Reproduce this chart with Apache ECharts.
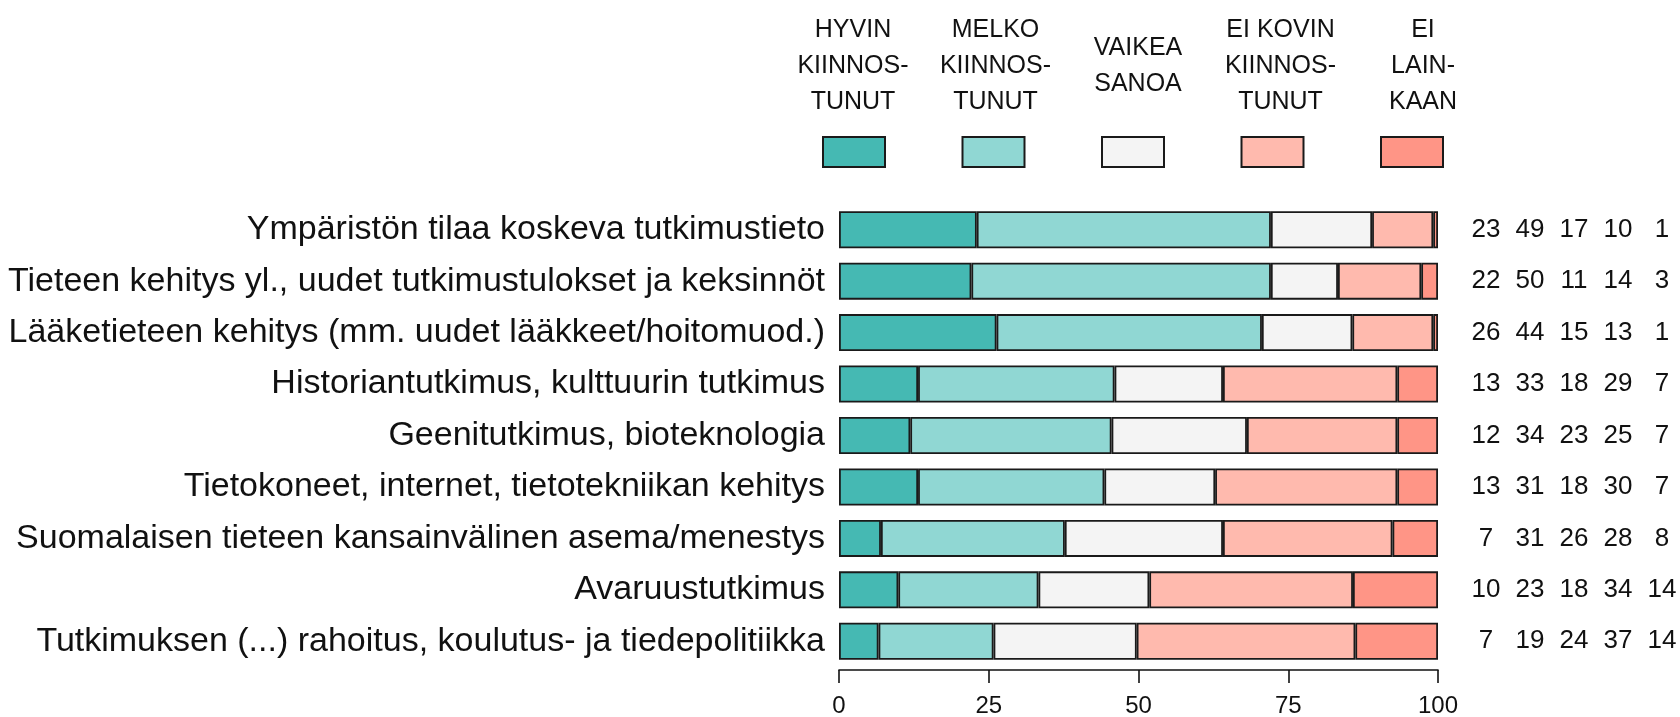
<!DOCTYPE html>
<html>
<head>
<meta charset="utf-8">
<script src="https://cdn.jsdelivr.net/npm/echarts@6/dist/echarts.min.js"></script>
<style>html,body{margin:0;padding:0;background:#fff}#c{width:1680px;height:717px}</style>
</head>
<body>
<div id="c"></div>
<script>
// ---- data ----
const categories = [
  'Ympäristön tilaa koskeva tutkimustieto',
  'Tieteen kehitys yl., uudet tutkimustulokset ja keksinnöt',
  'Lääketieteen kehitys (mm. uudet lääkkeet/hoitomuod.)',
  'Historiantutkimus, kulttuurin tutkimus',
  'Geenitutkimus, bioteknologia',
  'Tietokoneet, internet, tietotekniikan kehitys',
  'Suomalaisen tieteen kansainvälinen asema/menestys',
  'Avaruustutkimus',
  'Tutkimuksen (...) rahoitus, koulutus- ja tiedepolitiikka'
];
const seriesNames = ['HYVIN KIINNOSTUNUT', 'MELKO KIINNOSTUNUT', 'VAIKEA SANOA', 'EI KOVIN KIINNOSTUNUT', 'EI LAINKAAN'];
const legendLabels = ['HYVIN\nKIINNOS-\nTUNUT', 'MELKO\nKIINNOS-\nTUNUT', 'VAIKEA\nSANOA', 'EI KOVIN\nKIINNOS-\nTUNUT', 'EI\nLAIN-\nKAAN'];
// bar segment widths (%)
const hyvin      = [23.0, 22.1, 26.3, 13.2, 11.9, 13.2, 7.0, 9.9, 6.6];
const melko      = [49.1, 50.0, 44.3, 32.8, 33.6, 31.1, 30.7, 23.4, 19.2];
const vaikea     = [16.9, 11.2, 15.1, 18.1, 22.6, 18.5, 26.4, 18.5, 23.9];
const eiKovin    = [10.2, 13.9, 13.5, 29.1, 25.1, 30.4, 28.3, 34.0, 36.5];
const eiLainkaan = [0.8, 2.8, 0.8, 6.8, 6.8, 6.8, 7.6, 14.2, 13.8];
// printed percentages on the right
const lblHyvin      = [23, 22, 26, 13, 12, 13, 7, 10, 7];
const lblMelko      = [49, 50, 44, 33, 34, 31, 31, 23, 19];
const lblVaikea     = [17, 11, 15, 18, 23, 18, 26, 18, 24];
const lblEiKovin    = [10, 14, 13, 29, 25, 30, 28, 34, 37];
const lblEiLainkaan = [1, 3, 1, 7, 7, 7, 8, 14, 14];
const xTicks = [0, 25, 50, 75, 100];
const colors = ['#45B9B3', '#90D7D3', '#F4F4F4', '#FFBAAE', '#FF9586'];

const seriesData = [hyvin, melko, vaikea, eiKovin, eiLainkaan];
const labelData = [lblHyvin, lblMelko, lblVaikea, lblEiKovin, lblEiLainkaan];

const FONT = '"Liberation Sans", Arial, sans-serif';

const chart = echarts.init(document.getElementById('c'), null, {renderer: 'canvas'});

const legendLeft = 822, legendStep = 142.5, boxW = 62;

const option = {
  backgroundColor: '#ffffff',
  animation: false,
  grid: {left: 839, right: 242, top: 204, bottom: 50, containLabel: false, outerBoundsMode: 'none'},
  legend: {
    left: legendLeft, top: 136, padding: 0,
    itemWidth: boxW, itemHeight: 30,
    itemGap: legendStep - boxW - 5,
    icon: 'rect',
    formatter: () => '',
    selectedMode: false,
    itemStyle: {borderColor: '#1a1a1a', borderWidth: 2},
    data: seriesNames
  },
  xAxis: {
    type: 'value', min: 0, max: 100, interval: 25,
    offset: 3,
    splitLine: {show: false},
    axisLine: {show: true, lineStyle: {color: '#111', width: 1.6}},
    axisTick: {show: true, length: 13, lineStyle: {color: '#111', width: 1.6}},
    axisLabel: {
      fontFamily: FONT, fontSize: 24, color: '#111', margin: 24,
      formatter: v => xTicks.includes(v) ? String(v) : ''
    }
  },
  yAxis: [{
    type: 'category', data: categories, inverse: true,
    axisLine: {show: false}, axisTick: {show: false},
    axisLabel: {fontFamily: FONT, fontSize: 34, color: '#111', margin: 14}
  }, {
    type: 'category', data: categories, inverse: true, position: 'right',
    axisLine: {show: false}, axisTick: {show: false},
    axisLabel: {
      margin: 26, align: 'left',
      formatter: (v, i) => labelData.map(a => '{n|' + a[i] + '}').join(''),
      rich: {n: {width: 44, align: 'center', fontFamily: FONT, fontSize: 26, color: '#111'}}
    }
  }],
  graphic: legendLabels.map((t, i) => ({
    type: 'text',
    x: legendLeft + boxW / 2 + i * legendStep,
    y: 66,
    style: {
      text: t, fontFamily: FONT, fontSize: 25, lineHeight: 36,
      fill: '#111', align: 'center', verticalAlign: 'middle'
    }
  })),
  series: seriesNames.map((n, k) => ({
    name: n, type: 'bar', stack: 'all', yAxisIndex: 0,
    barWidth: 37,
    data: seriesData[k],
    itemStyle: {color: colors[k], borderColor: '#1a1a1a', borderWidth: 1.8},
    emphasis: {disabled: true}
  }))
};
chart.setOption(option);
</script>
</body>
</html>
